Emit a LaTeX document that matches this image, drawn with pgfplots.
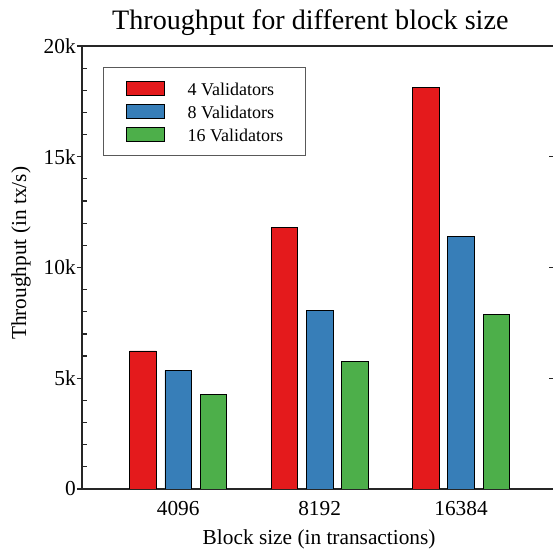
\documentclass[border=0pt]{standalone}
\usepackage{fontspec}
\setmainfont{Liberation Serif}
\usepackage{pgfplots}
\pgfplotsset{compat=1.18}
\definecolor{cred}{HTML}{E41A1C}
\definecolor{cblue}{HTML}{377EB8}
\definecolor{cgreen}{HTML}{4DAF4A}
\pgfplotsset{
  mybar/.style={ybar, bar width=0.187, draw=black, line width=0.5pt,
    legend image code/.code={\draw[##1, line width=0.5pt] (0pt,0.55pt) rectangle (28.5pt,11.05pt);}},
}
\begin{document}
\begin{tikzpicture}
\begin{axis}[name=main,
  scale only axis, width=354.3pt, height=332.25pt,
  xmin=-0.68, xmax=2.66, ymin=0, ymax=20000,
  axis line style={line width=0.9pt, black!85},
  xtick={0,1,2}, xticklabels={4096,8192,16384},
  every major x tick/.append style={draw=none},
  ytick={0,5000,10000,15000,20000}, yticklabels={0,5k,10k,15k,20k},
  minor y tick num=4,
  ytick pos=left, xtick pos=bottom, tick align=outside,
  major tick length=3.75pt, minor tick length=3.75pt,
  minor tick style={xshift=3.75pt},
  tick style={line width=0.9pt, black!85},
  scaled y ticks=false,
  /pgf/number format/assume math mode=true,
  ticklabel style={font=\fontsize{16}{19}\selectfont},
  yticklabel style={inner sep=0.75pt},
  xticklabel style={anchor=base, yshift=-15.9pt},
  every axis title shift=0pt,
  title={Throughput for different block size},
  title style={font=\fontsize{21.1}{25}\selectfont, at={(axis description cs:0.4833,1.0377)}, anchor=base},
  xlabel={Block size (in transactions)},
  xlabel style={font=\fontsize{16}{19}\selectfont, at={(axis description cs:0.502,-0.1264)}, anchor=base},
  ylabel={Throughput (in tx/s)},
  ylabel style={font=\fontsize{16}{19}\selectfont, at={(axis description cs:-0.1291,0.532)}, anchor=center},
  legend style={at={(0.0445,0.9526)}, anchor=north west, draw=black!65, line width=0.75pt,
    font=\fontsize{13.5}{16}\selectfont, inner xsep=17pt, inner ysep=10pt,
    row sep=5.35pt, column sep=17pt,
    nodes={inner sep=0pt, anchor=base west, text height=11.05pt, text depth=0.5pt}},
  legend cell align=left,
]
\addplot[mybar, bar shift=-0.25, fill=cred] coordinates {(0,6233) (1,11820) (2,18144)};
\addplot[mybar, bar shift=0, fill=cblue] coordinates {(0,5344) (1,8054) (2,11396)};
\addplot[mybar, bar shift=0.25, fill=cgreen] coordinates {(0,4260) (1,5767) (2,7890)};
\legend{4 Validators, 8 Validators, 16 Validators}
\end{axis}
\begin{axis}[
  scale only axis, width=354.3pt, height=332.25pt,
  xmin=-0.68, xmax=2.66, ymin=0, ymax=20000,
  axis x line=none, axis y line*=right,
  y axis line style={draw=none},
  xtick=\empty,
  scaled y ticks=false,
  ytick={5000,10000,15000}, yticklabels={},
  tick align=inside, major tick length=4.4pt,
  tick style={line width=0.9pt, black!85},
]
\end{axis}
\pgfresetboundingbox
\useasboundingbox ([xshift=-61.5pt,yshift=-46.5pt]main.south west) rectangle ([xshift=-1.05pt,yshift=34.5pt]main.north east);
\end{tikzpicture}
\end{document}
